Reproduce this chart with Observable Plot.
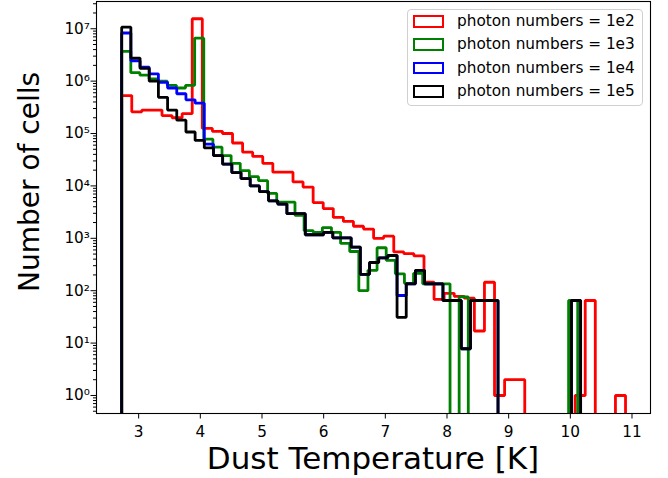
<!DOCTYPE html>
<html><head><meta charset="utf-8">
<script src="https://cdn.jsdelivr.net/npm/d3@7"></script>
<script src="https://cdn.jsdelivr.net/npm/@observablehq/plot@0.6"></script>
<style>
html,body{margin:0;padding:0;background:#fff;}
#wrap{position:relative;width:668px;height:478px;overflow:hidden;font-family:"DejaVu Sans",sans-serif;color:#000;}
#wrap svg{position:absolute;left:0;top:0;}
.xlabel{position:absolute;left:373px;top:443px;transform:translateX(-50%);font-size:31px;line-height:1;white-space:nowrap;}
.ylabel{position:absolute;left:16px;top:292px;transform-origin:0 0;transform:rotate(-90deg);font-size:28px;line-height:1;white-space:nowrap;}
.legend{position:absolute;left:407px;top:9px;width:236px;height:97px;border:1px solid #d0d0d0;border-radius:4px;background:rgba(255,255,255,0.8);box-sizing:border-box;}
.lrow{position:absolute;left:0;height:14px;}
.lpatch{position:absolute;left:5px;top:0;width:31px;height:12.5px;box-sizing:border-box;border-style:solid;border-width:2.8px;}
.ltext{position:absolute;left:49px;top:-3px;font-size:15.3px;line-height:18px;white-space:nowrap;color:#000;}
</style></head><body><div id="wrap"></div>
<script>
// ---- data ----
const seriesNames = ["photon numbers = 1e2","photon numbers = 1e3","photon numbers = 1e4","photon numbers = 1e5"];
const seriesColors = ["#ff0000","#008000","#0000ff","#000000"];
const binStart = [2.725, 2.725, 2.725, 2.725];
const binEnd   = [10.895, 10.12, 10.167, 10.167];
const counts1e2 = [5.3e5,2.6e5,2.8e5,2.8e5,2.2e5,2.0e5,2.4e5,1.55e7,1.25e5,1.1e5,
  1.0e5,6.6e4,4.4e4,3.65e4,2.7e4,1.83e4,1.83e4,1.19e4,9.5e3,4.8e3,
  3.7e3,2.5e3,2.1e3,1.7e3,1.5e3,1.0e3,1.1e3,550,510,460,
  145,68,89,78,72,17,145,1,2,2,
  0,0,0,0,0,1,65,0,0,1];
const counts1e3 = [3.7e6,1.45e6,1.3e6,1.1e6,1.0e6,8.3e5,7.4e5,8.3e5,6.6e6,7.8e4,
  5.5e4,3.8e4,2.7e4,1.95e4,1.5e4,1.26e4,7.2e3,4.9e3,4.9e3,2.75e3,
  1.4e3,1.3e3,1.6e3,1.3e3,800,560,100,245,660,380,
  210,138,215,135,135,135,0,76,0,0,
  0,0,0,0,0,0,0,0,0,65];
const counts1e4 = [8.3e6,2.45e6,1.85e6,1.38e6,9.5e5,7.4e5,5.75e5,4.4e5,3.8e5,6.3e4,
  3.8e4,2.6e4,1.8e4,1.38e4,1.0e4,7.8e3,5.2e3,4.5e3,2.95e3,2.95e3,
  1.17e3,1.17e3,1.3e3,1.02e3,1.02e3,680,205,345,425,470,
  81,135,245,135,135,65,65,7.8,65,65,
  65,0,0,0,0,0,0,0,0,65];
const counts1e5 = [1.07e7,2.75e6,1.75e6,1.0e6,4.9e5,2.8e5,1.8e5,1.07e5,7.4e4,5.3e4,
  3.8e4,2.6e4,1.8e4,1.38e4,1.0e4,7.8e3,5.2e3,4.5e3,2.95e3,2.95e3,
  1.17e3,1.17e3,1.3e3,1.02e3,1.02e3,680,205,345,425,470,
  31,135,245,135,135,65,65,7.8,65,65,
  65,0,0,0,0,0,0,0,0,65];
const allCounts = [counts1e2, counts1e3, counts1e4, counts1e5];
const xTicks = [3,4,5,6,7,8,9,10,11];
const yTicks = [1,10,100,1e3,1e4,1e5,1e6,1e7];
const xLabel = "Dust Temperature [K]";
const yLabel = "Number of cells";

// ---- build step outlines (matplotlib histtype="step") ----
const FLOOR = 1e-3;
function outline(counts, x0, x1) {
  const n = counts.length, w = (x1 - x0) / n, pts = [];
  pts.push({x: x0, y: FLOOR});
  counts.forEach((c, i) => {
    const v = c > 0 ? c : FLOOR;
    pts.push({x: x0 + i * w, y: v});
    pts.push({x: x0 + (i + 1) * w, y: v});
  });
  pts.push({x: x1, y: FLOOR});
  return pts;
}
const yDomain = [10 ** -0.344, 10 ** 7.52];
const sup = {"0":"⁰","1":"¹","2":"²","3":"³","4":"⁴","5":"⁵","6":"⁶","7":"⁷","8":"⁸","9":"⁹","-":"⁻"};
const fmtPow = d => "10" + String(Math.round(Math.log10(d))).split("").map(c => sup[c]).join("");
const minorTicks = [];
for (let k = -1; k <= 7; k++) for (let m = 2; m <= 9; m++) {
  const v = m * 10 ** k;
  if (v >= yDomain[0] && v <= yDomain[1]) minorTicks.push(v);
}

const lineMarks = allCounts.map((c, i) =>
  Plot.line(outline(c, binStart[i], binEnd[i]), {x: "x", y: "y", stroke: seriesColors[i], strokeWidth: 2.8,
    strokeLinejoin: "miter", strokeLinecap: "butt", clip: true}));

const chart = Plot.plot({
  width: 668, height: 478,
  marginLeft: 96, marginRight: 18, marginTop: 1, marginBottom: 65,
  style: {fontFamily: "DejaVu Sans, sans-serif", fontSize: "15.3px", color: "#000", background: "transparent"},
  x: {domain: [2.3165, 11.30]},
  y: {type: "log", domain: yDomain},
  marks: [
    ...lineMarks,
    Plot.axisX({ticks: xTicks, tickSize: 5.5, tickPadding: 7, label: null, tickFormat: d => String(d)}),
    Plot.axisY({ticks: yTicks, tickSize: 5.5, tickPadding: 1, label: null, tickFormat: fmtPow}),
    Plot.axisY({ticks: minorTicks, tickSize: 3, label: null, tickFormat: () => ""}),
    Plot.frame({stroke: "#000", strokeWidth: 1.1})
  ]
});
const wrap = document.getElementById("wrap");
wrap.appendChild(chart);
const xl = document.createElement("div"); xl.className = "xlabel"; xl.textContent = xLabel; wrap.appendChild(xl);
const yl = document.createElement("div"); yl.className = "ylabel"; yl.textContent = yLabel; wrap.appendChild(yl);
const lg = document.createElement("div"); lg.className = "legend"; wrap.appendChild(lg);
seriesNames.forEach((name, i) => {
  const row = document.createElement("div"); row.className = "lrow"; row.style.top = (5 + i * 23.4) + "px";
  const p = document.createElement("div"); p.className = "lpatch"; p.style.borderColor = seriesColors[i];
  const t = document.createElement("div"); t.className = "ltext"; t.textContent = name;
  row.appendChild(p); row.appendChild(t); lg.appendChild(row);
});
</script></body></html>
